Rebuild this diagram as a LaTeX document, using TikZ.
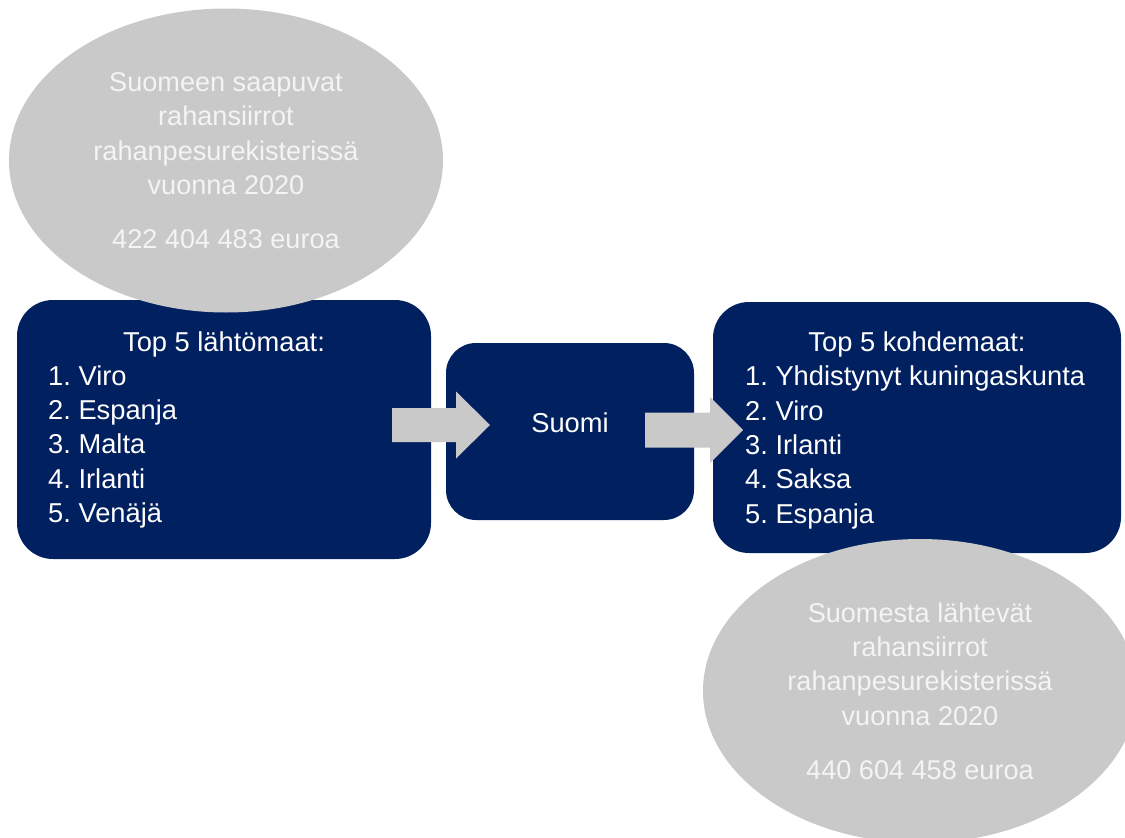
\documentclass[tikz,border=0pt]{standalone}
\usepackage{fontspec}
\setmainfont{Liberation Sans}
\usetikzlibrary{shapes.geometric}

\definecolor{tummansin}{HTML}{002060}
\definecolor{harmaa}{HTML}{C9C9C9}
\definecolor{vaalea}{HTML}{F4F4F4}

\begin{document}
\frenchspacing
\begin{tikzpicture}[x=1pt, y=-1pt,
    laatikko/.style={fill=tummansin, rounded corners=36pt, inner sep=0pt},
    pallo/.style={ellipse, fill=harmaa, text=vaalea, align=center, inner sep=0pt,
                  font=\fontsize{27.1}{34.4}\selectfont},
    teksti/.style={text=white, inner sep=0pt, font=\fontsize{27.3}{34.4}\selectfont},
    nuoli/.style={fill=harmaa}]
            \useasboundingbox (0,0) rectangle (1125,838);

            % 1. Sininen laatikot
            \node[laatikko, minimum width=414pt, minimum height=259pt] (lahto) at (224,429.5) {};
            \node[laatikko, rounded corners=30pt, minimum width=248pt, minimum height=177pt] (suomi) at (570,431.5) {};
            \node[laatikko, minimum width=408pt, minimum height=251pt] (kohde) at (917,427.5) {};

            % 2. Harmaat pallot
            \node[pallo, minimum width=434pt, minimum height=304pt] (saapuvat) at (226,160.5)
                {Suomeen saapuvat\\ rahansiirrot\\ rahanpesurekisterissä\\ vuonna 2020\\[19.5pt] 422 404 483 euroa};
            \node[pallo, minimum width=434pt, minimum height=304pt] (lahtevat) at (920,691)
                {Suomesta lähtevät\\ rahansiirrot\\ rahanpesurekisterissä\\ vuonna 2020\\[19.5pt] 440 604 458 euroa};

            % 3. Nuolet
            \fill[nuoli] (392,408) -- (456,408) -- (456,391.5) -- (490,425)
                -- (456,458.5) -- (456,442) -- (392,442) -- cycle;
            \fill[nuoli] (645,412.5) -- (710,412.5) -- (710,397) -- (743,430)
                -- (710,463) -- (710,447.5) -- (645,447.5) -- cycle;

            % 4. Tekstit
            \node[teksti, anchor=base] (lahto-otsikko) at (224,351) {Top 5 lähtömaat:};
            \node[teksti, anchor=base] (kohde-otsikko) at (917,351.5) {Top 5 kohdemaat:};
            \node[teksti, anchor=base] (suomi-teksti) at (570,432.5) {Suomi};
            \foreach \i/\maa in {1/Viro, 2/Espanja, 3/Malta, 4/Irlanti, 5/Venäjä} {
                \node[teksti, anchor=base west] (lahto-\i) at (48,351+34.3*\i) {\i.\ \maa};
            }
            \foreach \i/\maa in {1/Yhdistynyt kuningaskunta, 2/Viro, 3/Irlanti, 4/Saksa, 5/Espanja} {
                \node[teksti, anchor=base west] (kohde-\i) at (745,351.5+34.3*\i) {\i.\ \maa};
            }
        \end{tikzpicture}
\end{document}
